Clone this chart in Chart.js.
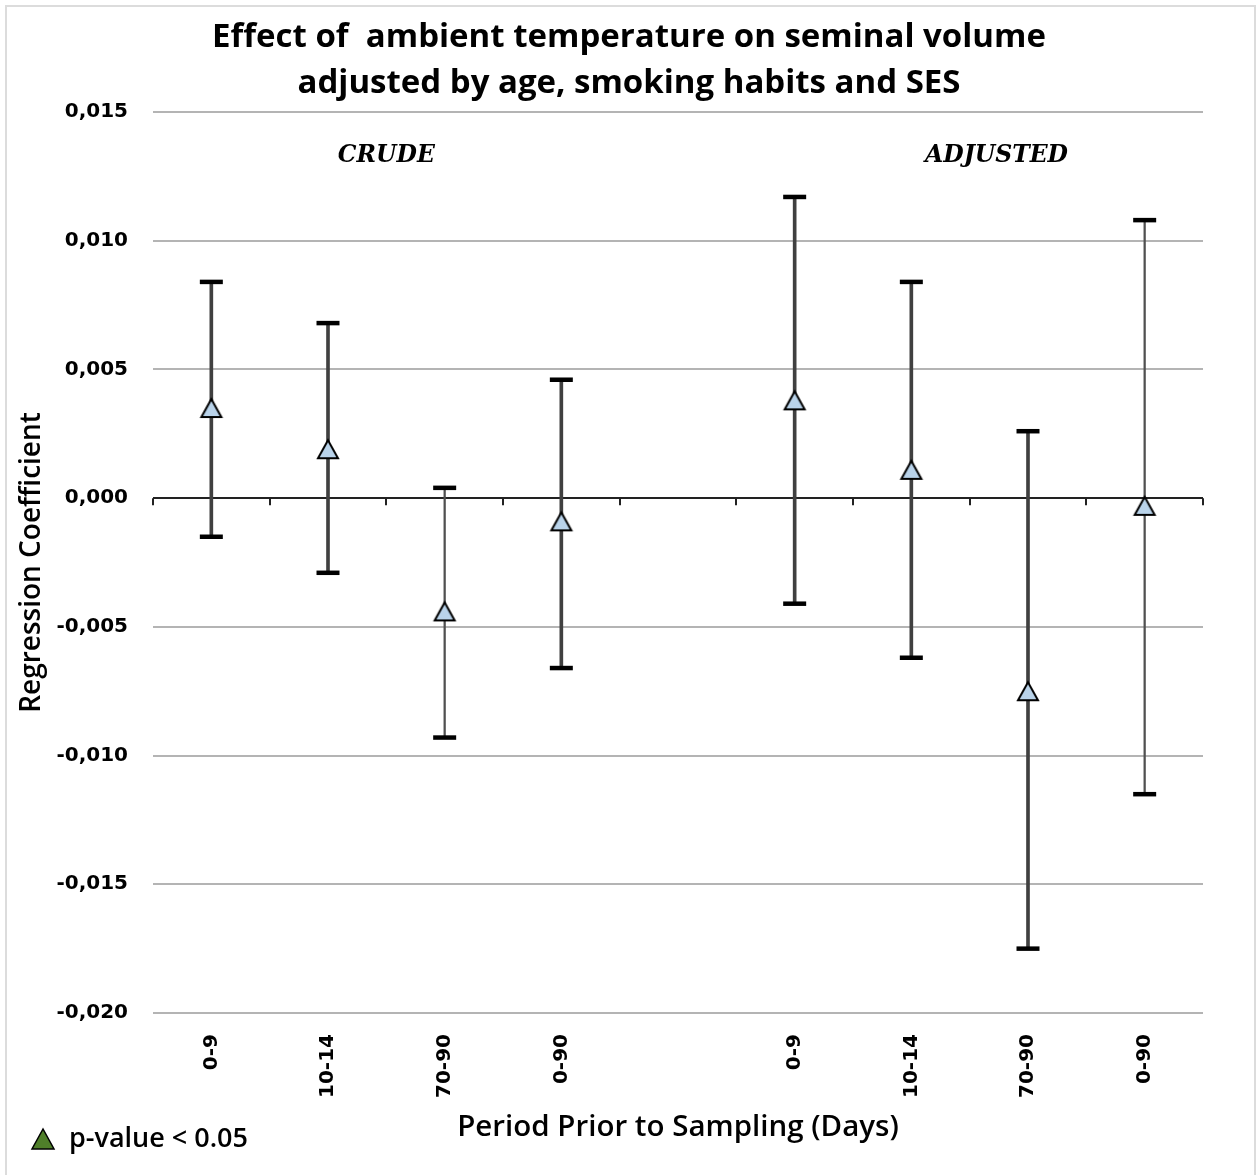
<!DOCTYPE html>
<html>
<head>
<meta charset="utf-8">
<script src="https://cdn.jsdelivr.net/npm/chart.js@4.4.1/dist/chart.umd.min.js"></script>
<style>
  html, body { margin: 0; padding: 0; background: #fff; }
  #wrap { position: relative; width: 1258px; height: 1175px; }
  #frame { position: absolute; left: 5px; top: 5px; width: 1251px; height: 1180px; border: 2px solid #dcdcdc; box-sizing: border-box; pointer-events: none; }
</style>
</head>
<body>
<div id="wrap">
  <canvas id="chart" width="1258" height="1175"></canvas>
  <div id="frame"></div>
</div>
<script>
// categories - the blank slot splits crude from adjusted
const periods = ['0-9', '10-14', '70-90', '0-90', '', '0-9', '10-14', '70-90', '0-90'];
const coef  = [0.0035, 0.0019, -0.0044, -0.0009, null, 0.0038, 0.0011, -0.0075, -0.0003];
const lower = [-0.0015, -0.0029, -0.0093, -0.0066, null, -0.0041, -0.0062, -0.0175, -0.0115];
const upper = [0.0084, 0.0068, 0.0004, 0.0046, null, 0.0117, 0.0084, 0.0026, 0.0108];
const yTicks = [0.015, 0.010, 0.005, 0, -0.005, -0.010, -0.015, -0.020];
const groupLabels = ['CRUDE', 'ADJUSTED'];
const legendText = 'p-value < 0.05';

// whiskers drawn thinner for these two
const thinBars = [2, 8];
const thickData = periods.map((p, i) => (coef[i] === null || thinBars.includes(i)) ? null : [lower[i], upper[i]]);
const thinData = periods.map((p, i) => (coef[i] === null || !thinBars.includes(i)) ? null : [lower[i], upper[i]]);

// Excel style triangle marker, centred on its bounding box
function makeTriangle(fill) {
  const c = document.createElement('canvas');
  c.width = 26; c.height = 24;
  const g = c.getContext('2d');
  g.beginPath();
  g.moveTo(13, 3);
  g.lineTo(3, 21);
  g.lineTo(23, 21);
  g.closePath();
  g.fillStyle = fill;
  g.fill();
  g.lineWidth = 2;
  g.strokeStyle = '#000';
  g.stroke();
  return c;
}
const blueTriangle = makeTriangle('#b9d3ea');

// zero axis ticks, group labels, legend
const extras = {
  id: 'extras',
  beforeDatasetsDraw(chart) {
    const { ctx, chartArea, scales } = chart;
    const y0 = scales.y.getPixelForValue(0);
    const step = (chartArea.right - chartArea.left) / periods.length;
    ctx.save();
    ctx.strokeStyle = '#222';
    ctx.lineWidth = 2;
    for (let i = 0; i <= periods.length; i++) {
      const x = Math.round(chartArea.left + i * step);
      ctx.beginPath();
      ctx.moveTo(x, y0);
      ctx.lineTo(x, y0 + 7);
      ctx.stroke();
    }
    ctx.restore();
  },
  afterDraw(chart) {
    const { ctx, scales } = chart;
    ctx.save();
    ctx.fillStyle = '#000';
    ctx.font = 'italic bold 23.5px "DejaVu Serif"';
    ctx.textAlign = 'center';
    ctx.textBaseline = 'middle';
    const ly = scales.y.getPixelForValue(0.0133);
    ctx.fillText(groupLabels[0], scales.x.getPixelForValue(1.5), ly);
    ctx.fillText(groupLabels[1], scales.x.getPixelForValue(6.73), ly);

    // legend entry
    ctx.beginPath();
    ctx.moveTo(43, 1129);
    ctx.lineTo(32, 1149);
    ctx.lineTo(54, 1149);
    ctx.closePath();
    ctx.fillStyle = '#4f7f2a';
    ctx.fill();
    ctx.strokeStyle = '#000';
    ctx.lineWidth = 1.5;
    ctx.stroke();
    ctx.fillStyle = '#000';
    ctx.font = '600 27px "Open Sans"';
    ctx.textAlign = 'left';
    ctx.fillText(legendText, 69, 1139);
    ctx.restore();
  }
};

new Chart(document.getElementById('chart'), {
  type: 'bar',
  data: {
    labels: periods,
    datasets: [
      {
        type: 'line',
        data: coef,
        showLine: false,
        pointStyle: blueTriangle,
        order: 0
      },
      {
        type: 'line',
        data: upper,
        showLine: false,
        pointStyle: 'line',
        pointRadius: 11.5,
        pointBorderWidth: 4.5,
        pointBorderColor: '#000',
        order: 1
      },
      {
        type: 'line',
        data: lower,
        showLine: false,
        pointStyle: 'line',
        pointRadius: 11.5,
        pointBorderWidth: 4.5,
        pointBorderColor: '#000',
        order: 1
      },
      {
        data: thickData,
        backgroundColor: '#404040',
        barThickness: 3,
        grouped: false,
        borderWidth: 0,
        order: 2
      },
      {
        data: thinData,
        backgroundColor: '#505050',
        barThickness: 1.6,
        grouped: false,
        borderWidth: 0,
        order: 2
      }
    ]
  },
  options: {
    responsive: false,
    animation: false,
    devicePixelRatio: 1,
    layout: { padding: 0 },
    plugins: {
      legend: { display: false },
      tooltip: { enabled: false },
      title: {
        display: true,
        text: ['Effect of  ambient temperature on seminal volume', 'adjusted by age, smoking habits and SES'],
        color: '#000',
        font: { family: 'Open Sans', size: 33, weight: 'bold', lineHeight: 1.394 },
        padding: { top: 15, bottom: 5 }
      }
    },
    scales: {
      x: {
        offset: true,
        grid: { display: false },
        border: { display: false },
        ticks: {
          autoSkip: false,
          minRotation: 90,
          maxRotation: 90,
          padding: 13,
          color: '#000',
          font: { family: 'DejaVu Sans', size: 20, weight: 'bold' }
        },
        title: {
          display: true,
          text: 'Period Prior to Sampling (Days)',
          color: '#000',
          font: { family: 'Open Sans', size: 29.5, weight: '600' },
          padding: { top: 0, bottom: 30 }
        },
        afterFit(scale) { scale.height = 162; }
      },
      y: {
        min: -0.02,
        max: 0.015,
        afterBuildTicks(scale) { scale.ticks = yTicks.map(v => ({ value: v })); },
        grid: {
          color: ctx => (ctx.tick && Math.abs(ctx.tick.value) < 1e-9) ? '#222' : '#b4b4b4',
          lineWidth: 2,
          drawTicks: false
        },
        border: { display: false },
        ticks: {
          padding: 25,
          color: '#000',
          font: { family: 'DejaVu Sans', size: 20, weight: 'bold' },
          callback: v => v.toFixed(3).replace('.', ',')
        },
        title: {
          display: true,
          text: 'Regression Coefficient',
          color: '#000',
          font: { family: 'Open Sans', size: 28, weight: '600' },
          padding: { top: 15 }
        },
        afterFit(scale) { scale.width = 153; }
      },
      // empty right-hand strip so the plot ends where the reference does
      yRight: {
        position: 'right',
        display: true,
        grid: { display: false },
        border: { display: false },
        ticks: { display: false },
        afterFit(scale) { scale.width = 55; }
      }
    }
  },
  plugins: [extras]
});
</script>
</body>
</html>
